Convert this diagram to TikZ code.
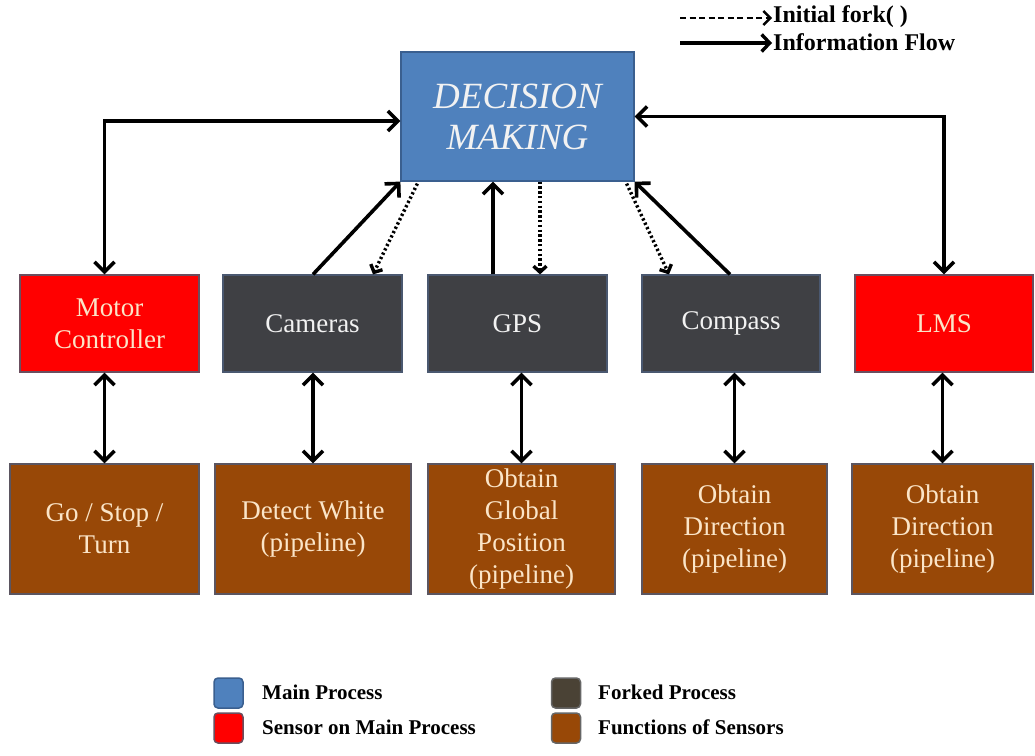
\documentclass[tikz,border=0pt]{standalone}
\usepackage{fontspec}
\setmainfont{Liberation Serif}
\usetikzlibrary{arrows.meta,calc}
\definecolor{dmblue}{HTML}{4F81BD}
\definecolor{dmborder}{HTML}{3A5F8F}
\definecolor{sensred}{HTML}{FF0000}
\definecolor{redborder}{HTML}{6B4E5E}
\definecolor{forkdark}{HTML}{3F4044}
\definecolor{forkborder}{HTML}{4A5870}
\definecolor{fnbrown}{HTML}{984807}
\definecolor{fnborder}{HTML}{5B5560}
\definecolor{lighttext}{HTML}{F2F2F2}
\definecolor{creamtext}{HTML}{FBE5C8}
\definecolor{forkswatch}{HTML}{4A4235}
\tikzset{
  barb/.tip={Straight Barb[length=10pt,width=20pt]},
  smallbarb/.tip={Straight Barb[length=6pt,width=13pt]},
  basebox/.style={draw, line width=1.2pt, inner sep=0pt, align=center, font=\fontsize{27}{32}\selectfont},
  mainbox/.style={basebox, fill=dmblue, draw=dmborder, text=lighttext,
     font=\fontsize{37}{41}\selectfont\itshape},
  sensbox/.style={basebox, fill=sensred, draw=redborder, text=creamtext},
  forkbox/.style={basebox, fill=forkdark, draw=forkborder, text=lighttext},
  fnbox/.style={basebox, fill=fnbrown, draw=fnborder, text=creamtext},
  flow/.style={line width=3.6pt, black},
  fork/.style={line width=3.4pt, black, dash pattern=on 2.3pt off 2.5pt},
  swatch/.style={rounded corners=4pt, line width=1.5pt, minimum width=29pt, minimum height=30pt, inner sep=0pt},
  legtext/.style={anchor=west, inner sep=0pt, font=\fontsize{21}{24}\selectfont\bfseries},
  toplegtext/.style={anchor=west, inner sep=0pt, font=\fontsize{24}{26}\selectfont\bfseries},
}
\begin{document}
\begin{tikzpicture}[x=1pt,y=-1pt]
\useasboundingbox[fill=white] (0,0) rectangle (1035,755);

% main process
\node[mainbox, minimum width=233pt, minimum height=129pt] (dm) at (517.5,116.5) {DECISION\\MAKING};

% row 2
\node[sensbox, minimum width=179pt, minimum height=97pt] (motor) at (109.5,323.5) {Motor\\Controller};
\node[forkbox, minimum width=179pt, minimum height=97pt] (cam) at (312.5,323.5) {Cameras};
\node[forkbox, minimum width=179pt, minimum height=97pt] (gps) at (517.5,323.5) {GPS};
\node[forkbox, minimum width=178pt, minimum height=97pt] (comp) at (731,323.5) {Compass};
\node[sensbox, minimum width=178pt, minimum height=97pt] (lms) at (944,323.5) {LMS};

% row 3
\node[fnbox, minimum width=189pt, minimum height=130pt] (f1) at (104.5,529) {Go / Stop /\\Turn};
\node[fnbox, minimum width=196pt, minimum height=130pt] (f2) at (313,529) {Detect White\\(pipeline)};
\node[fnbox, minimum width=187pt, minimum height=130pt] (f3) at (521.5,529) {\raisebox{-5pt}{\begin{tabular}{@{}c@{}}Obtain\\Global\\Position\\(pipeline)\end{tabular}}};
\node[fnbox, minimum width=185pt, minimum height=130pt] (f4) at (734.5,529) {Obtain\\Direction\\(pipeline)};
\node[fnbox, minimum width=181pt, minimum height=130pt] (f5) at (942.5,529) {Obtain\\Direction\\(pipeline)};

% vertical double arrows between rows 2 and 3
\draw[flow, barb-barb] (f1.north |- motor.south) -- (f1.north);
\draw[flow, barb-barb] (f2.north |- cam.south) -- (f2.north);
\draw[flow, barb-barb] (f3.north |- gps.south) -- (f3.north);
\draw[flow, barb-barb] (f4.north |- comp.south) -- (f4.north);
\draw[flow, barb-barb] (f5.north |- lms.south) -- (f5.north);

% main process to sensors on main process
\draw[flow, barb-barb] ([yshift=-4.5pt]dm.west) -| ([xshift=-5pt]motor.north);
\draw[flow, barb-barb] (dm.east) -| (lms.north);

% forked processes
\coordinate (camS) at ($(cam.north)+(0.5,0)$);
\draw[flow, -barb] (camS) -- (dm.south west);
\draw[fork, -smallbarb] ($(dm.south west)+(17,2)$) -- ($(cam.north)+(60.5,0)$);

\coordinate (gpsS) at ($(gps.north)+(-24.5,0)$);
\draw[flow, -barb] (gpsS) -- (gpsS |- dm.south);
\coordinate (gpsD) at ($(gps.north)+(22.5,0)$);
\draw[fork, -smallbarb] (gpsD |- dm.south) -- (gpsD);

\draw[fork, -smallbarb] ($(dm.south east)+(-8,2)$) -- ($(comp.north)+(-62,0)$);
\draw[flow, -barb] ($(comp.north)+(-1,0)$) -- (dm.south east);

% top legend
\coordinate (lgA1) at (680,18);
\coordinate (lgA2) at (772,18);
\coordinate (lgB1) at (680,43);
\coordinate (lgB2) at (772,43);
\draw[line width=2.4pt, dash pattern=on 6pt off 3.5pt, -{Straight Barb[length=7pt,width=14pt]}] (lgA1) -- (lgA2);
\draw[line width=3.4pt, -{Straight Barb[length=8pt,width=17pt]}] (lgB1) -- (lgB2);
\node[toplegtext] (lgAt) at (773,17) {Initial fork( )};
\node[toplegtext] (lgBt) at (773,42) {Information Flow};

% bottom legend
\node[swatch, fill=dmblue, draw=dmborder] (s1) at (228.5,693) {};
\node[swatch, fill=sensred, draw=redborder] (s2) at (228.5,728) {};
\node[swatch, fill=forkswatch, draw=gray!80!black] (s3) at (566,693) {};
\node[swatch, fill=fnbrown, draw=gray!80!black] (s4) at (566,728) {};
\node[legtext] (t1) at (262,692) {Main Process};
\node[legtext] (t2) at (262,727) {Sensor on Main Process};
\node[legtext] (t3) at (598,692) {Forked Process};
\node[legtext] (t4) at (598,727) {Functions of Sensors};
\end{tikzpicture}
\end{document}
